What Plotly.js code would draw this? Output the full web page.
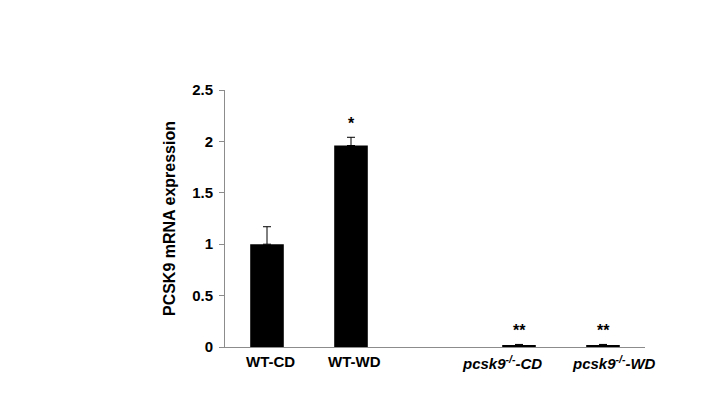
<!DOCTYPE html>
<html><head><meta charset="utf-8">
<script src="https://cdn.plot.ly/plotly-3.0.1.min.js"></script>
<style>html,body{margin:0;padding:0;background:#fff}</style>
</head><body><div id="chart" style="width:714px;height:399px"></div>
<script>
const categories = ["WT-CD", "WT-WD", "gap", "pcsk9 KO-CD", "pcsk9 KO-WD"];
const tickLabels = ["WT-CD", "WT-WD", "", "<i>pcsk9<sup>-/-</sup>-CD</i>", "<i>pcsk9<sup>-/-</sup>-WD</i>"];
const values = [1.0, 1.96, null, 0.02, 0.02];
const errors = [0.17, 0.08, null, 0.005, 0.005];
const marks = ["", "*", "", "**", "**"];

const font = "Liberation Sans, Arial, sans-serif";
const labelShift = [3, 3, 0, -17, 11];
const annotations = [];
categories.forEach((c, i) => {
  if (marks[i]) {
    annotations.push({x: c, y: values[i] + errors[i], xref: "x", yref: "y",
      text: "<b>" + marks[i] + "</b>", showarrow: false, yanchor: "bottom", yshift: 3,
      font: {family: font, size: 16, color: "#000"}});
  }
  if (tickLabels[i]) {
    annotations.push({x: c, y: 0, xref: "x", yref: "y", text: "<b>" + tickLabels[i] + "</b>",
      showarrow: false, yanchor: "top", yshift: -4, xshift: labelShift[i],
      font: {family: font, size: 15, color: "#000"}});
  }
});

Plotly.newPlot("chart", [{
  type: "bar", x: categories, y: values,
  marker: {color: "#000"}, width: 0.4,
  error_y: {type: "data", array: errors, symmetric: false, arrayminus: [0,0,0,0,0],
    color: "#000", thickness: 1, width: 4}
}], {
  width: 714, height: 399,
  margin: {l: 225, r: 69, t: 90, b: 52, autoexpand: false},
  paper_bgcolor: "#fff", plot_bgcolor: "#fff",
  showlegend: false,
  font: {family: font, color: "#000"},
  xaxis: {type: "category", categoryarray: categories, range: [-0.5, 4.5], showticklabels: false,
    automargin: false, showline: true, linecolor: "#8c8c8c", linewidth: 1, ticks: "",
    showgrid: false, zeroline: false},
  yaxis: {range: [0, 2.5], dtick: 0.5, showline: true, linecolor: "#8c8c8c", linewidth: 1,
    automargin: false,
    ticks: "outside", ticklen: 5, tickcolor: "#8c8c8c", showgrid: false, zeroline: false,
    ticklabelstandoff: 3,
    tickfont: {family: font, size: 15, color: "#000", weight: "bold"},
    title: {text: "PCSK9 mRNA expression", standoff: 12,
      font: {family: font, size: 16, color: "#000", weight: "bold"}}},
  annotations: annotations
}, {displayModeBar: false, staticPlot: true});
</script></body></html>
